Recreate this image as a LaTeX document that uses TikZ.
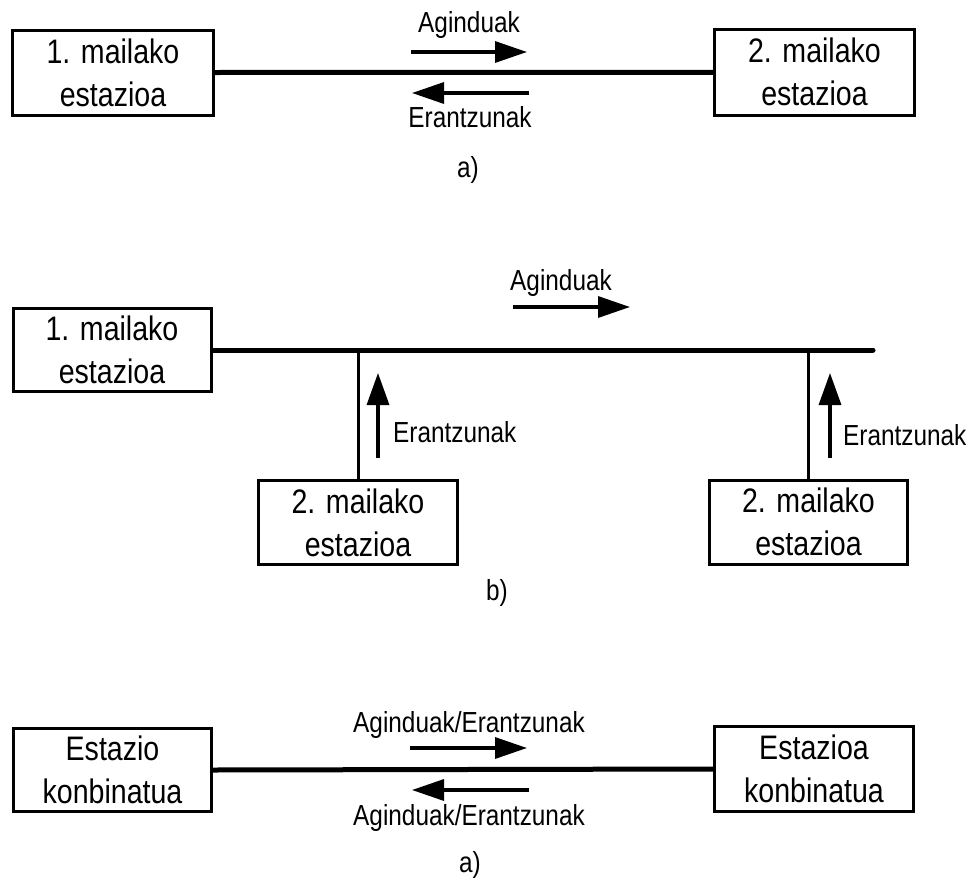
\documentclass[tikz,border=0pt]{standalone}
\usepackage{fontspec}
\setmainfont{Liberation Sans}[FakeStretch=0.84]
\usetikzlibrary{arrows.meta}

\tikzset{
  station/.style={draw, line width=3pt, inner sep=0pt, align=center,
    font=\fontsize{34}{43}\selectfont},
  lbl/.style={inner sep=0pt, font=\fontsize{29}{34}\selectfont},
  bus/.style={line width=5pt},
  drop/.style={line width=3pt},
  flow/.style={line width=3.3pt, -{Triangle[length=32pt,width=21pt]}},
  upflow/.style={line width=3.3pt, -{Triangle[length=32pt,width=22pt]}}
}

\begin{document}
\begin{tikzpicture}[x=1pt,y=-1pt]
\useasboundingbox (0,0) rectangle (972,881);

% ---- a) point-to-point link
\node[station, minimum width=201pt, minimum height=85pt] (a1) at (113,72.5) {1. mailako\\estazioa};
\node[station, minimum width=200pt, minimum height=85.5pt] (a2) at (814.5,72.3) {2. mailako\\estazioa};
\draw[bus] (a1.east) -- (a2.west);
\coordinate (aCmdS) at (411,52);  \coordinate (aCmdE) at (527,52);
\coordinate (aRspS) at (529,93);  \coordinate (aRspE) at (412,93);
\draw[flow] (aCmdS) -- (aCmdE);
\draw[flow] (aRspS) -- (aRspE);
\node[lbl, anchor=base] (aCmd) at (469,32) {Aginduak};
\node[lbl, anchor=base] (aRsp) at (470,127) {Erantzunak};
\node[lbl, anchor=base] (aCap) at (468,177) {a)};

% ---- b) shared bus with two secondaries
\node[station, minimum width=198pt, minimum height=83pt] (b1) at (112,350) {1. mailako\\estazioa};
\node[station, minimum width=199pt, minimum height=84pt] (b2) at (358,522.5) {2. mailako\\estazioa};
\node[station, minimum width=198pt, minimum height=84pt] (b3) at (808.5,522) {2. mailako\\estazioa};
\coordinate (busEnd) at (873,350);
\draw[bus, line cap=round] (b1.east) -- (busEnd);
\coordinate (tapL) at (b2.north |- b1.east);
\coordinate (tapR) at (b3.north |- b1.east);
\draw[drop] (b2.north) -- (tapL);
\draw[drop] (b3.north) -- (tapR);
\coordinate (bCmdS) at (513,307); \coordinate (bCmdE) at (630,307);
\draw[flow] (bCmdS) -- (bCmdE);
\node[lbl, anchor=base] (bCmd) at (561,290) {Aginduak};
\coordinate (bRspLS) at (378,458); \coordinate (bRspLE) at (378,373);
\coordinate (bRspRS) at (830,458); \coordinate (bRspRE) at (830,373);
\draw[upflow] (bRspLS) -- (bRspLE);
\draw[upflow] (bRspRS) -- (bRspRE);
\node[lbl, anchor=base west] (bRspL) at (393,442) {Erantzunak};
\node[lbl, anchor=base west] (bRspR) at (843,445) {Erantzunak};
\node[lbl, anchor=base] (bCap) at (497,600) {b)};

% ---- combined stations
\node[station, minimum width=198pt, minimum height=83pt] (c1) at (112.5,770) {Estazio\\konbinatua};
\node[station, minimum width=199pt, minimum height=85pt] (c2) at (814,769) {Estazioa\\konbinatua};
\draw[bus] (c1.east) -- (c2.west);
\coordinate (cFwdS) at (410,748); \coordinate (cFwdE) at (527,748);
\coordinate (cBckS) at (529,790); \coordinate (cBckE) at (412,790);
\draw[flow] (cFwdS) -- (cFwdE);
\draw[flow] (cBckS) -- (cBckE);
\node[lbl, anchor=base] (cFwd) at (469,732) {Aginduak/Erantzunak};
\node[lbl, anchor=base] (cBck) at (469,825) {Aginduak/Erantzunak};
\node[lbl, anchor=base] (cCap) at (470,872) {a)};
\end{tikzpicture}
\end{document}
